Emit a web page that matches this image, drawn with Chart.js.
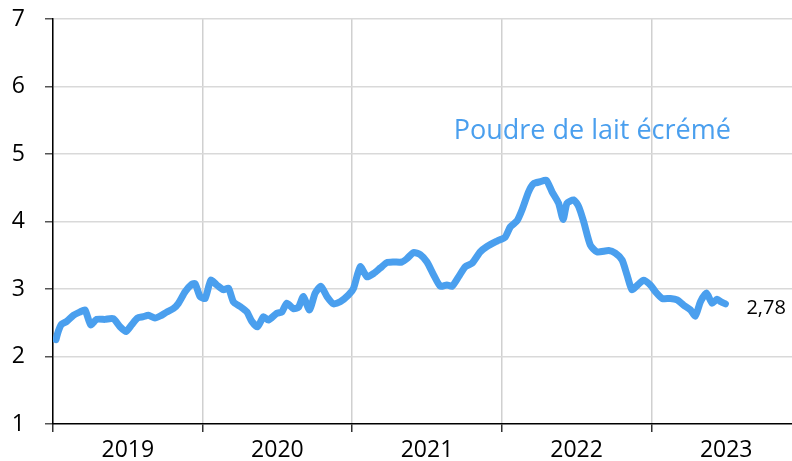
<!DOCTYPE html>
<html>
<head>
<meta charset="utf-8">
<script src="https://cdn.jsdelivr.net/npm/chart.js@4/dist/chart.umd.min.js"></script>
<style>
  html, body { margin: 0; padding: 0; background: #fff; }
  #wrap { width: 792px; height: 461px; position: relative; }
</style>
</head>
<body>
<div id="wrap"><canvas id="chart"></canvas></div>
<script>
// Prix de la poudre de lait écrémé (relevé hebdomadaire)
const yearPos = [
  2019.020, 2019.035, 2019.058, 2019.092, 2019.136, 2019.181, 2019.214, 2019.252, 2019.292, 2019.348,
  2019.403, 2019.448, 2019.488, 2019.526, 2019.564, 2019.604, 2019.637, 2019.682, 2019.716, 2019.761,
  2019.805, 2019.839, 2019.883, 2019.928, 2019.950, 2019.983, 2020.017, 2020.055, 2020.095, 2020.139,
  2020.173, 2020.206, 2020.251, 2020.296, 2020.329, 2020.367, 2020.407, 2020.440, 2020.496, 2020.530,
  2020.563, 2020.607, 2020.641, 2020.674, 2020.714, 2020.753, 2020.791, 2020.831, 2020.875, 2020.920,
  2020.975, 2021.009, 2021.054, 2021.099, 2021.143, 2021.187, 2021.232, 2021.276, 2021.332, 2021.366,
  2021.410, 2021.455, 2021.500, 2021.544, 2021.589, 2021.633, 2021.667, 2021.711, 2021.756, 2021.801,
  2021.856, 2021.901, 2021.968, 2022.023, 2022.057, 2022.102, 2022.135, 2022.179, 2022.213, 2022.258,
  2022.298, 2022.336, 2022.380, 2022.410, 2022.436, 2022.481, 2022.514, 2022.547, 2022.592, 2022.637,
  2022.715, 2022.759, 2022.804, 2022.837, 2022.870, 2022.908, 2022.948, 2022.993, 2023.027, 2023.072,
  2023.127, 2023.172, 2023.216, 2023.261, 2023.294, 2023.328, 2023.368, 2023.406, 2023.440, 2023.465,
  2023.495
];
const prix = [
  2.25, 2.37, 2.48, 2.52, 2.61, 2.66, 2.69, 2.47, 2.55, 2.55,
  2.56, 2.44, 2.37, 2.47, 2.57, 2.59, 2.61, 2.57, 2.60, 2.66,
  2.71, 2.79, 2.96, 3.07, 3.08, 2.89, 2.86, 3.13, 3.06, 2.99,
  3.01, 2.81, 2.74, 2.66, 2.52, 2.44, 2.59, 2.54, 2.64, 2.66,
  2.79, 2.71, 2.73, 2.89, 2.69, 2.94, 3.04, 2.89, 2.78, 2.81,
  2.91, 3.01, 3.33, 3.18, 3.23, 3.31, 3.39, 3.40, 3.40, 3.45,
  3.54, 3.51, 3.40, 3.21, 3.04, 3.06, 3.04, 3.18, 3.33, 3.38,
  3.55, 3.63, 3.71, 3.77, 3.92, 4.01, 4.17, 4.44, 4.56, 4.59,
  4.61, 4.44, 4.27, 4.03, 4.27, 4.32, 4.22, 4.00, 3.65, 3.55,
  3.57, 3.53, 3.43, 3.21, 2.99, 3.06, 3.13, 3.06, 2.96, 2.86,
  2.86, 2.84, 2.76, 2.69, 2.60, 2.81, 2.94, 2.79, 2.85, 2.81,
  2.78
];
const serieLabel = 'Poudre de lait écrémé';
const lastLabel = '2,78';
const xMin = 2019, xMax = 2023.94;
const yMin = 1, yMax = 7;

const lineColor = '#4a9fee';
const fontFam = '"Open Sans", "Liberation Sans", sans-serif';

const labelsPlugin = {
    id: 'labels',
    afterDatasetsDraw(chart) {
        const { ctx, scales: { x, y } } = chart;
        ctx.save();
        // series name
        ctx.fillStyle = lineColor;
        ctx.font = '27px ' + fontFam;
        ctx.textAlign = 'center';
        ctx.textBaseline = 'middle';
        ctx.fillText(serieLabel, x.getPixelForValue(2022.605), y.getPixelForValue(5.34));
        // last value
        const n = prix.length - 1;
        ctx.fillStyle = '#000';
        ctx.font = '20px ' + fontFam;
        ctx.textAlign = 'left';
        ctx.fillText(lastLabel, x.getPixelForValue(yearPos[n]) + 21, y.getPixelForValue(prix[n]) + 4);
        ctx.restore();
    }
};

new Chart(document.getElementById('chart').getContext('2d'), {
    type: 'line',
    data: {
        datasets: [{
            label: serieLabel,
            data: yearPos.map((t, i) => ({ x: t, y: prix[i] })),
            borderColor: lineColor,
            borderWidth: 7,
            borderJoinStyle: 'round',
            borderCapStyle: 'round',
            tension: 0.2,
            pointRadius: 0,
            fill: false
        }]
    },
    options: {
        responsive: true,
        maintainAspectRatio: false,
        animation: false,
        layout: { padding: { top: 19, right: 0, left: 0, bottom: 0 } },
        plugins: { legend: { display: false }, tooltip: { enabled: false } },
        scales: {
            x: {
                type: 'linear',
                min: xMin, max: xMax,
                afterFit: (s) => { s.height = 37; s.paddingLeft = 0; s.paddingRight = 0; },
                border: { color: '#000', width: 1.5 },
                grid: {
                    color: (c) => (c.tick && c.tick.value % 1 === 0) ? '#d0d0d0' : 'rgba(0,0,0,0)',
                    tickColor: (c) => (c.tick && c.tick.value % 1 === 0) ? '#333' : 'rgba(0,0,0,0)',
                    lineWidth: 1.5,
                    tickLength: 8
                },
                ticks: {
                    stepSize: 0.5,
                    includeBounds: false,
                    autoSkip: false,
                    maxRotation: 0,
                    padding: 5,
                    color: '#000',
                    font: { family: fontFam, size: 23 },
                    callback: (v) => (v % 1 === 0.5) ? String(Math.floor(v)) : ''
                }
            },
            y: {
                min: yMin, max: yMax,
                afterFit: (s) => { s.width = 53; s.paddingTop = 0; s.paddingBottom = 0; },
                border: { color: '#000', width: 1.5 },
                grid: {
                    color: (c) => (c.tick && c.tick.value === yMin) ? 'rgba(0,0,0,0)' : '#d9d9d9',
                    tickColor: '#555',
                    lineWidth: 1.5,
                    tickLength: 8
                },
                ticks: {
                    stepSize: 1,
                    padding: 20,
                    color: '#000',
                    font: { family: fontFam, size: 23 }
                }
            }
        }
    },
    plugins: [labelsPlugin]
});
</script>
</body>
</html>
